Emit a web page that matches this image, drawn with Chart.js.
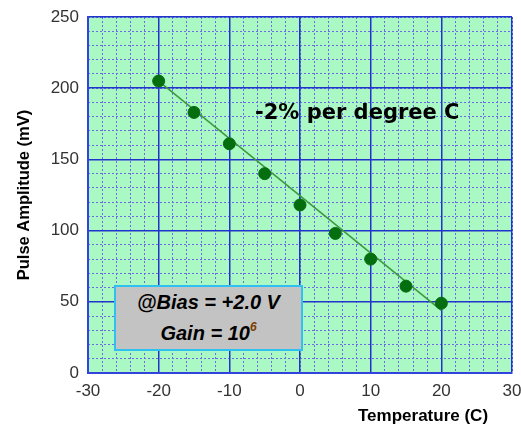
<!DOCTYPE html>
<html>
<head>
<meta charset="utf-8">
<script src="https://cdn.jsdelivr.net/npm/chart.js@4"></script>
<style>
  body { margin: 0; background: #fff; }
  #wrap { position: relative; width: 521px; height: 426px; }
  #xTitle { position: absolute; left: 358px; top: 406px; font: bold 17px "Liberation Sans", Arial, sans-serif; color: #000; }
  #slope { position: absolute; left: 255px; top: 100px; font: bold 21px "DejaVu Sans", sans-serif; color: #000; white-space: nowrap; }
  #biasBox { position: absolute; left: 114px; top: 285px; width: 185px; height: 62px; background: #c3c3c3; border: 2px solid #2fbff0;
             font: italic bold 20px "Liberation Sans", Arial, sans-serif; color: #000; text-align: center; }
  #biasBox div { height: 31px; line-height: 31px; }
  #biasBox sup { font-size: 12px; color: #7a3d00; vertical-align: 9px; line-height: 0; }
</style>
</head>
<body>
<div id="wrap">
  <canvas id="chart"></canvas>
  <div id="xTitle">Temperature (C)</div>
  <div id="slope">-2% per degree C</div>
  <div id="biasBox">
    <div>@Bias = +2.0 V</div>
    <div>Gain = 10<sup>6</sup></div>
  </div>
</div>
<script>
// measured pulse amplitude vs temperature
var temps = [-20, -15, -10, -5, 0, 5, 10, 15, 20];
var amplitudes = [205, 183, 161, 140, 118, 98, 80, 61, 49];
// straight trend line drawn through the points
var trendTemps = [-20, 20];
var trendAmps = [205, 44];

var tickFont = { family: '"Liberation Sans", Arial, sans-serif', size: 17 };

// mint fill behind the plot area
var plotBg = {
  id: 'plotBg',
  beforeDraw: function (chart) {
    var a = chart.chartArea, ctx = chart.ctx;
    ctx.save();
    ctx.fillStyle = '#aaf8c4';
    ctx.fillRect(a.left, a.top, a.right - a.left, a.bottom - a.top);
    ctx.restore();
  }
};

function toXY(xs, ys) {
  return xs.map(function (x, i) { return { x: x, y: ys[i] }; });
}

new Chart(document.getElementById('chart'), {
  type: 'scatter',
  data: {
    datasets: [
      { data: toXY(temps, amplitudes), backgroundColor: '#056f0f', borderColor: '#056f0f', pointRadius: 6, pointHoverRadius: 6 },
      { data: toXY(trendTemps, trendAmps), showLine: true, borderColor: '#3a9a3a', borderWidth: 1.5, pointRadius: 0 }
    ]
  },
  options: {
    responsive: true,
    maintainAspectRatio: false,
    animation: false,
    layout: { padding: { top: 17, right: 9, bottom: 0, left: 0 } },
    plugins: { legend: { display: false }, tooltip: { enabled: false } },
    scales: {
      x: {
        type: 'linear', position: 'bottom', min: -30, max: 30,
        ticks: { stepSize: 10, color: '#333', font: tickFont, padding: 8 },
        grid: { color: '#2233cc', lineWidth: 1.5, drawTicks: false, z: -1 },
        border: { color: '#3344dd', width: 2 },
        afterFit: function (s) { s.height = 53; s.paddingLeft = 0; s.paddingRight = 0; }
      },
      y: {
        type: 'linear', position: 'left', min: 0, max: 250,
        ticks: { stepSize: 50, color: '#333', font: tickFont, padding: 9 },
        grid: { color: '#2233cc', lineWidth: 1.5, drawTicks: false, z: -1 },
        border: { color: '#3344dd', width: 2 },
        title: { display: true, text: 'Pulse Amplitude (mV)', color: '#000',
                 font: { family: '"Liberation Sans", Arial, sans-serif', size: 16.5, weight: 'bold' },
                 padding: { top: 15, bottom: 0 } },
        afterFit: function (s) { s.width = 88; s.paddingTop = 0; s.paddingBottom = 0; }
      },
      xMinor: {
        type: 'linear', position: 'top', min: -30, max: 30,
        ticks: { stepSize: 2, display: false },
        grid: { color: '#6b6be8', lineWidth: 1, drawTicks: false, z: -2 },
        border: { display: false, dash: [2, 2] },
        afterFit: function (s) { s.height = 0; }
      },
      yMinor: {
        type: 'linear', position: 'right', min: 0, max: 250,
        ticks: { stepSize: 10, display: false },
        grid: { color: '#6b6be8', lineWidth: 1, drawTicks: false, z: -2 },
        border: { display: false, dash: [2, 2] },
        afterFit: function (s) { s.width = 0; }
      }
    }
  },
  plugins: [plotBg]
});
</script>
</body>
</html>
